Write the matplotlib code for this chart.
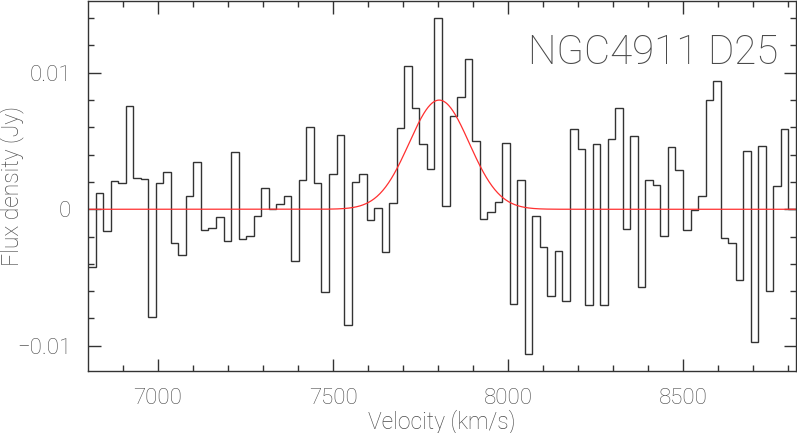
import numpy as np
import matplotlib
matplotlib.use("Agg")
import matplotlib.pyplot as plt
from matplotlib.ticker import MultipleLocator, FuncFormatter

# channel grid (km/s)
v_start = 6800.5
chan_width = 21.5

# flux per channel (Jy)
flux = [
    -0.0042, 0.0012, -0.0016, 0.0021, 0.0019, 0.0076, 0.0023, 0.0022, -0.0079, 0.0019,
    0.0027, -0.0025, -0.00335, 0.0010, 0.00345, -0.0015, -0.0014, -0.0006, -0.0023, 0.0042,
    -0.00216, -0.00197, -0.0005, 0.00158, 0.00005, 0.00036, 0.00097, -0.0038, 0.00218, 0.0060,
    0.0019, -0.00605, 0.00255, 0.00545, -0.0085, 0.00197, 0.00255, -0.00078, 0.00007, -0.00313,
    0.00044, 0.00592, 0.0105, 0.00743, 0.00481, 0.00296, 0.01398, 0.00024, 0.00682, 0.0082,
    0.0110, 0.00498, -0.0007, -0.00022, 0.00056, 0.00485, -0.00694, 0.00218, -0.01063, -0.00053,
    -0.00277, -0.00638, -0.00306, -0.00675, 0.00585, 0.00442, -0.00704, 0.00481, -0.00704, 0.00517,
    0.0074, -0.00146, 0.00534, -0.0057, 0.00218, 0.00175, -0.00194, 0.00459, 0.00291, -0.0015,
    -0.00002, 0.00095, 0.00803, 0.00939, -0.00211, -0.00248, -0.00517, 0.00427, -0.00976, 0.00466,
    -0.00602, 0.00167, 0.00585, 0.0,
]

# gaussian fit parameters
fit_amp = 0.0080
fit_center = 7803.0
fit_fwhm = 202.0

label_text = "NGC4911 D25"
text_col = "#4a4a4a"
line_col = "#333333"

plt.rcParams["font.family"] = ["Roboto", "DejaVu Sans"]
plt.rcParams["font.weight"] = "light"
plt.rcParams["axes.labelweight"] = "light"

edges = v_start + chan_width * np.arange(len(flux) + 1)

fig = plt.figure(figsize=(7.97, 4.33), dpi=100)
ax = fig.add_axes([0.1104, 0.1432, 0.8883, 0.8545])

ax.stairs(flux, edges, baseline=None, color=line_col, linewidth=1.0)

vv = np.linspace(edges[0], edges[-1], 1000)
sig = fit_fwhm / 2.3548
gauss = fit_amp * np.exp(-0.5 * ((vv - fit_center) / sig) ** 2)
ax.plot(vv, gauss, color="#ff3030", linewidth=0.9)

ax.set_xlim(edges[0], edges[-1])
ax.set_ylim(-0.01185, 0.01526)

ax.xaxis.set_major_locator(MultipleLocator(500))
ax.xaxis.set_minor_locator(MultipleLocator(100))
ax.yaxis.set_major_locator(MultipleLocator(0.01))
ax.yaxis.set_minor_locator(MultipleLocator(0.002))


def yfmt(v, pos):
    if abs(v) < 1e-9:
        return "0"
    s = "%g" % v
    return s.replace("-", "\u2212")


ax.yaxis.set_major_formatter(FuncFormatter(yfmt))

ax.tick_params(which="both", direction="in", top=True, right=True,
               colors=line_col, labelcolor=text_col, labelsize=16, width=1.0)
ax.tick_params(which="major", length=9, pad=12)
ax.tick_params(which="minor", length=4.5)
for sp in ax.spines.values():
    sp.set_color(line_col)
    sp.set_linewidth(1.0)

ax.set_xlabel("Velocity (km/s)", fontsize=16.5, color=text_col)
ax.xaxis.set_label_coords(0.5, -0.103)
ax.set_ylabel("Flux density (Jy)", fontsize=16.5, color=text_col)
ax.yaxis.set_label_coords(-0.09, 0.5)

ax.text(0.975, 0.83, label_text, transform=ax.transAxes, ha="right", va="baseline",
        fontsize=29, color=text_col)

fig.savefig("out.png", dpi=100)
